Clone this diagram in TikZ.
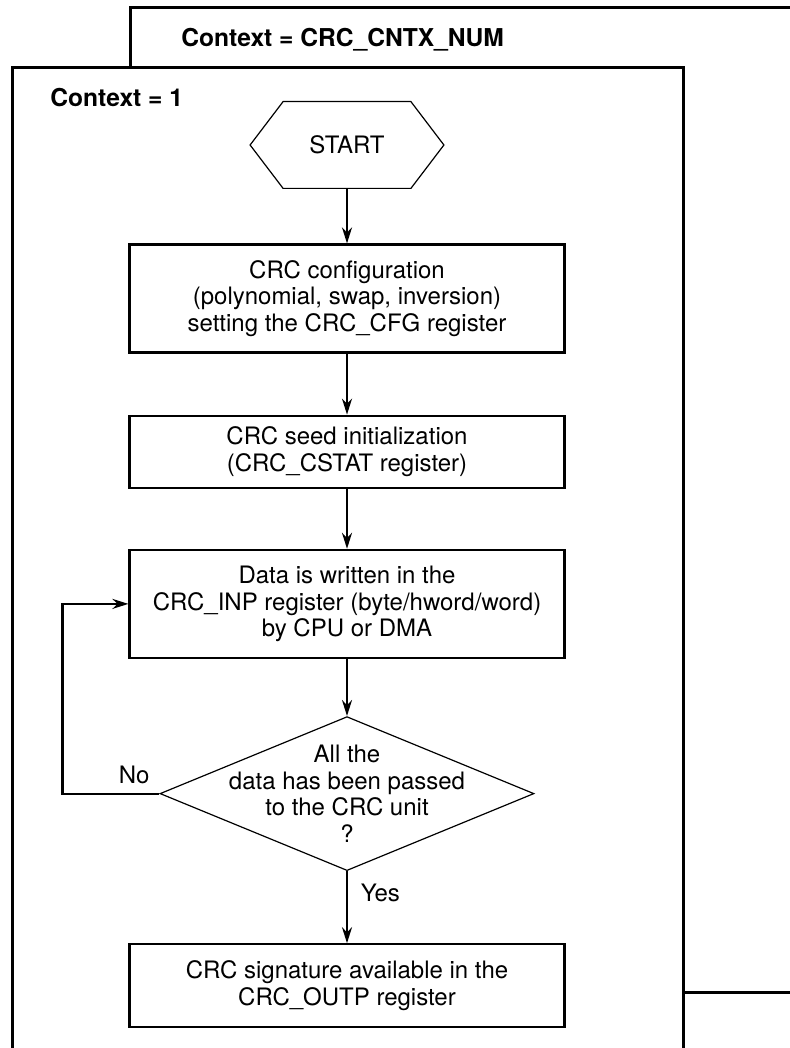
\documentclass[tikz,border=0pt]{standalone}
\usepackage{fontspec}
\setmainfont{TeX Gyre Heros}
\usetikzlibrary{positioning,shapes.geometric,arrows.meta}

\begin{document}
\begin{tikzpicture}[
  x=0.5pt, y=-0.5pt,
  frame/.style={line width=1.5pt},
  box/.style={rectangle, draw, line width=1.1pt, minimum width=217.5pt,
    align=center, inner sep=2pt, font=\fontsize{12}{13.3}\selectfont},
  decision/.style={diamond, draw, line width=0.6pt, minimum width=187pt,
    minimum height=77pt, inner sep=0pt},
  ctx/.style={anchor=west, inner sep=0pt, font=\bfseries\fontsize{12.3}{14}\selectfont},
  lbl/.style={font=\fontsize{12}{13.3}\selectfont},
  flow/.style={-{Stealth[length=8pt,width=5pt]}, line width=1.1pt},
  node distance=30pt
]
\useasboundingbox (0,0) rectangle (790,1048);

% ── Context frames ──
\draw[frame] (130,68) -- (130,8) -- (800,8);
\draw[frame] (683,992) -- (800,992);
\draw[frame] (12,1060) -- (12,68) -- (683,68) -- (683,1060);
\node[ctx] (ctxn) at (181,40) {Context = CRC\_CNTX\_NUM};
\node[ctx] (ctx1) at (50,98) {Context = 1};

% ── Nodes ──
\node[lbl, inner sep=0pt, minimum width=96.5pt, minimum height=43pt]
  (start) at (347,145) {START};
\draw[line width=0.6pt] (start.west) -- ([xshift=16.5pt]start.north west)
  -- ([xshift=-16.5pt]start.north east) -- (start.east)
  -- ([xshift=-16.5pt]start.south east) -- ([xshift=16.5pt]start.south west)
  -- cycle;
\node[box, minimum height=54pt, below=27.5pt of start] (cfg)
  {CRC configuration\\(polynomial, swap, inversion)\\setting the CRC\_CFG register};
\node[box, minimum height=36pt, below=30.5pt of cfg] (seed)
  {CRC seed initialization\\(CRC\_CSTAT register)};
\node[box, minimum height=54pt, below=30pt of seed] (wr)
  {Data is written in the\\CRC\_INP register (byte/hword/word)\\by CPU or DMA};
\node[decision, below=28.5pt of wr,
  label={[lbl, align=center]center:{All the\\data has been passed\\to the CRC unit\\?}}]
  (chk) {};
\node[box, minimum height=41.5pt, below=36pt of chk] (sig)
  {CRC signature available in the\\CRC\_OUTP register};

% ── Main flow ──
\draw[flow] (start) -- (cfg);
\draw[flow] (cfg) -- (seed);
\draw[flow] (seed) -- (wr);
\draw[flow] (wr) -- (chk);
\draw[flow] (chk) -- (sig)
  node[lbl, pos=0.3, right=3pt] {Yes};

% ── Loop back ──
\draw[flow] (chk.west) -- node[lbl, pos=0.26, above=1pt] {No} ++(-48.5pt,0)
  |- (wr.west);

\end{tikzpicture}
\end{document}
